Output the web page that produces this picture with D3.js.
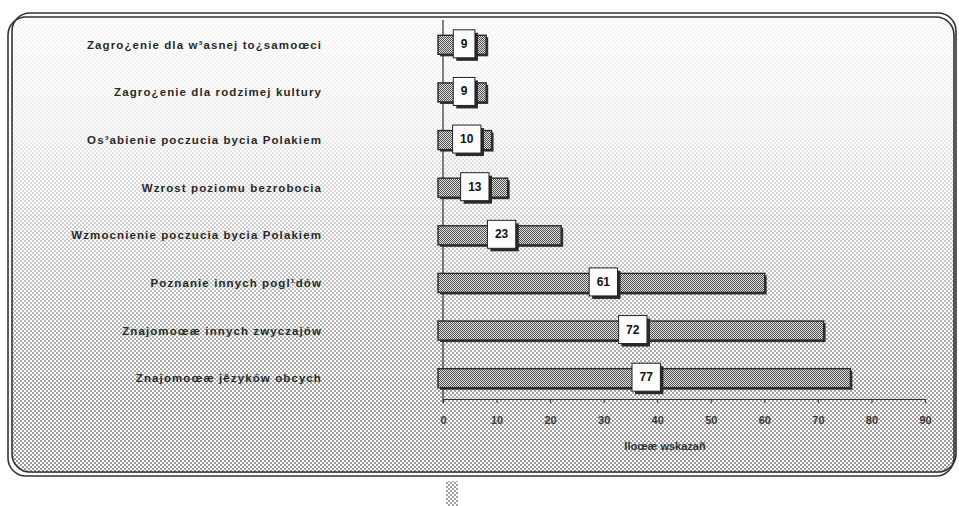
<!DOCTYPE html>
<html>
<head>
  <meta charset="utf-8" />
  <title>Ilość wskazań</title>
  <script src="https://d3js.org/d3.v7.min.js"></script>
  <style>
    body {
      margin: 0;
      background: #fff;
    }

    svg {
      display: block;
      font-family: "Liberation Sans", Arial, sans-serif;
    }

    .cat {
      font-size: 11.5px;
      font-weight: bold;
      letter-spacing: 1.1px;
      fill: #2a2a2a;
      text-anchor: end;
      dominant-baseline: central;
    }

    .val {
      font-size: 12px;
      font-weight: bold;
      fill: #111;
      text-anchor: middle;
      dominant-baseline: central;
    }

    .axis text {
      font-size: 11px;
      font-weight: bold;
      fill: #3a3a3a;
      font-family: "Liberation Sans", Arial, sans-serif;
    }

    .axis line, .axis path {
      stroke: #333;
    }
  </style>
</head>
<body>

<svg width="959" height="506"></svg>

<script>
  // data (encoding kept as printed)
  const categories = [
    "Zagro¿enie dla w³asnej to¿samoœci",
    "Zagro¿enie dla rodzimej kultury",
    "Os³abienie poczucia bycia Polakiem",
    "Wzrost poziomu bezrobocia",
    "Wzmocnienie poczucia bycia Polakiem",
    "Poznanie innych pogl¹dów",
    "Znajomoœæ innych zwyczajów",
    "Znajomoœæ jêzyków obcych"
  ];
  const values = [9, 9, 10, 13, 23, 61, 72, 77];
  const tickValues = [0, 10, 20, 30, 40, 50, 60, 70, 80, 90];
  const axisTitle = "Iloœæ wskazañ";

  const svg = d3.select("svg");
  const defs = svg.append("defs");

  // halftone background dots
  const bgPat = defs.append("pattern")
    .attr("id", "dots")
    .attr("width", 4).attr("height", 4)
    .attr("patternUnits", "userSpaceOnUse");
  bgPat.append("rect").attr("width", 2).attr("height", 2).attr("fill", "#666");
  bgPat.append("rect").attr("x", 2).attr("y", 2).attr("width", 2).attr("height", 2).attr("fill", "#666");

  const grad = defs.append("linearGradient")
    .attr("id", "fade")
    .attr("x1", 0).attr("y1", 0).attr("x2", 0).attr("y2", 1);
  [[0, 0.03], [0.25, 0.1], [0.5, 0.32], [0.75, 0.55], [1, 0.68]].forEach(s => {
    grad.append("stop").attr("offset", s[0]).attr("stop-color", "#fff").attr("stop-opacity", s[1]);
  });
  defs.append("mask").attr("id", "fadeMask")
    .append("rect").attr("x", 0).attr("y", 0).attr("width", 959).attr("height", 480)
    .attr("fill", "url(#fade)");

  // darker pattern for the bars
  const barPat = defs.append("pattern")
    .attr("id", "barfill")
    .attr("width", 2).attr("height", 2)
    .attr("patternUnits", "userSpaceOnUse");
  barPat.append("rect").attr("width", 2).attr("height", 2).attr("fill", "#e0e0e0");
  barPat.append("rect").attr("width", 1).attr("height", 1).attr("fill", "#505050");
  barPat.append("rect").attr("x", 1).attr("y", 1).attr("width", 1).attr("height", 1).attr("fill", "#505050");

  // frame
  svg.append("rect")
    .attr("x", 12).attr("y", 13).attr("width", 944).attr("height", 460)
    .attr("rx", 18)
    .attr("fill", "#fdfdfd");
  svg.append("rect")
    .attr("x", 12).attr("y", 13).attr("width", 944).attr("height", 460)
    .attr("rx", 18)
    .attr("fill", "url(#dots)")
    .attr("mask", "url(#fadeMask)");
  svg.append("rect")
    .attr("x", 8).attr("y", 17).attr("width", 946).attr("height", 459)
    .attr("rx", 18)
    .attr("fill", "none").attr("stroke", "#333").attr("stroke-width", 1.6);
  svg.append("rect")
    .attr("x", 12).attr("y", 13).attr("width", 944).attr("height", 459)
    .attr("rx", 18)
    .attr("fill", "none").attr("stroke", "#333").attr("stroke-width", 1.6);

  // scan artefact under the frame
  svg.append("rect")
    .attr("x", 446).attr("y", 481).attr("width", 12).attr("height", 25)
    .attr("fill", "url(#dots)")
    .attr("opacity", 0.6);

  const x = d3.scaleLinear().domain([0, 90]).range([443, 925]);
  const y = d3.scaleBand().domain(categories).range([21, 402]).paddingInner(0.6).paddingOuter(0.3);

  const bh = y.bandwidth();
  const shift = -5;

  const g = svg.append("g");

  // value axis
  const axis = d3.axisBottom(x)
    .tickValues(tickValues)
    .tickSize(4)
    .tickSizeOuter(0)
    .tickPadding(13)
    .tickFormat(d3.format("d"));

  g.append("g")
    .attr("class", "axis")
    .attr("transform", "translate(0,399)")
    .call(axis);

  g.append("line")
    .attr("x1", x(0)).attr("x2", x(0))
    .attr("y1", 20).attr("y2", 403)
    .attr("stroke", "#333").attr("stroke-width", 1.2);

  g.append("text")
    .attr("x", (x(0) + x(90)) / 2 - 19)
    .attr("y", 446)
    .attr("text-anchor", "middle")
    .attr("dominant-baseline", "central")
    .style("font-size", "11px")
    .style("font-weight", "bold")
    .style("fill", "#333")
    .text(axisTitle);

  const rows = categories.map((c, i) => ({ name: c, value: values[i] }));

  const row = g.selectAll(".row")
    .data(rows)
    .enter().append("g")
    .attr("class", "row");

  // bar shadow
  row.append("rect")
    .attr("x", d => x(0) + shift + 2)
    .attr("y", d => y(d.name) + 2)
    .attr("width", d => x(d.value) - x(0))
    .attr("height", bh)
    .attr("fill", "#333");

  row.append("rect")
    .attr("x", d => x(0) + shift)
    .attr("y", d => y(d.name))
    .attr("width", d => x(d.value) - x(0))
    .attr("height", bh)
    .attr("fill", "url(#barfill)")
    .attr("stroke", "#2a2a2a")
    .attr("stroke-width", 1.4);

  row.append("text")
    .attr("class", "cat")
    .attr("x", 322)
    .attr("y", d => y(d.name) + bh / 2)
    .text(d => d.name);

  // value label boxes
  row.each(function (d) {
    const sel = d3.select(this);
    const cx = x(0) + shift + (x(d.value) - x(0)) / 2 + 2;
    const cy = y(d.name) + bh / 2 - 1;
    const t = sel.append("text")
      .attr("class", "val")
      .attr("x", cx)
      .attr("y", cy)
      .text(d.value);
    const w = t.node().getComputedTextLength() + 15;
    const h = 28;
    sel.insert("rect", "text.val")
      .attr("x", cx - w / 2 + 3).attr("y", cy - h / 2 + 3)
      .attr("width", w).attr("height", h)
      .attr("fill", "#2a2a2a");
    sel.insert("rect", "text.val")
      .attr("x", cx - w / 2).attr("y", cy - h / 2)
      .attr("width", w).attr("height", h)
      .attr("fill", "#fdfdfd")
      .attr("stroke", "#222")
      .attr("stroke-width", 1);
  });
</script>

</body>
</html>
